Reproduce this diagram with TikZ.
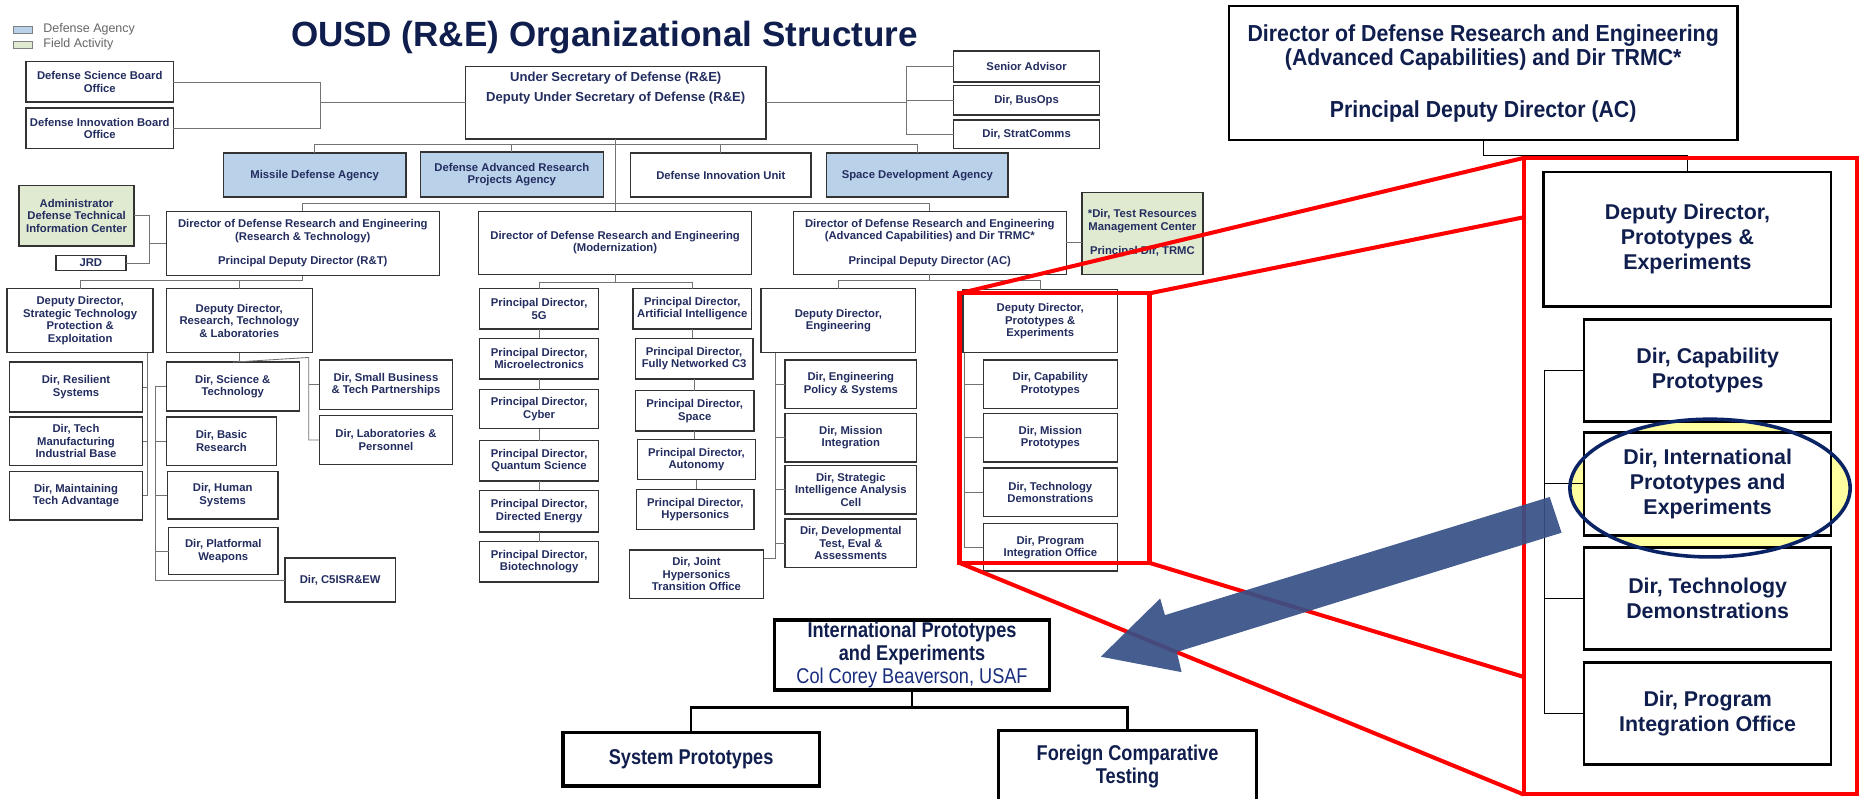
\documentclass[tikz,border=0pt]{standalone}
\usepackage{fontspec}
\setmainfont{Liberation Sans}
\newfontfamily\narrowfont{Liberation Sans}[FakeStretch=0.85]
\newfontfamily\semifont{Liberation Sans}[FakeStretch=0.92]
\definecolor{navy}{RGB}{35,45,95}
\definecolor{navyd}{RGB}{16,30,78}
\definecolor{agblue}{RGB}{186,209,234}
\definecolor{fagreen}{RGB}{224,234,208}
\definecolor{ellblue}{RGB}{10,35,100}
\definecolor{ellyel}{RGB}{255,255,160}
\definecolor{arrblue}{RGB}{55,80,135}
\definecolor{colblue}{RGB}{25,45,125}
\definecolor{redc}{RGB}{255,0,0}
\newcommand{\bx}[7][]{\node[obox,#1,minimum width={#5-#3},minimum height={#6-#4}] (#2) at ({(#3+#5)/2},{(#4+#6)/2}) {#7};}
\begin{document}
\begin{tikzpicture}[x=1pt,y=-1pt,
  obox/.style={draw=black!80, line width=1.2pt, fill=white, inner sep=0.5pt, outer sep=0pt, align=center, text=navy, font=\fontsize{9.5}{10.5}\selectfont\bfseries},
  agency/.style={fill=agblue},
  field/.style={fill=fagreen},
  conn/.style={draw=black!55, line width=0.7pt},
  rbox/.style={draw=black, line width=2.2pt, fill=white, inner sep=1pt, align=center, text=navyd, font=\fontsize{18}{21}\selectfont\bfseries},
  rtopbox/.style={rbox, font=\semifont\fontsize{19.5}{21}\selectfont\bfseries},
  bbox/.style={draw=black, line width=2.8pt, fill=white, inner sep=1pt, align=center, text=navyd, font=\narrowfont\fontsize{18}{19}\selectfont\bfseries},
  rconn/.style={draw=black, line width=0.8pt},
  bconn/.style={draw=black, line width=2.2pt},
  redl/.style={draw=redc, line width=3.4pt}]
\fill[white] (0,0) rectangle (1568,672);
\useasboundingbox (0,0) rectangle (1568,672);

% legend and title
\node[draw=black!50, fill=agblue, minimum width=16, minimum height=6, inner sep=0] (lgA) at (19,25) {};
\node[anchor=west, text=black!60, font=\fontsize{10.5}{12}\selectfont] (lgAt) at (33,25) {Defense Agency};
\node[draw=black!50, fill=fagreen, minimum width=16, minimum height=6, inner sep=0] (lgF) at (19,37.5) {};
\node[anchor=west, text=black!60, font=\fontsize{10.5}{12}\selectfont] (lgFt) at (33,37.5) {Field Activity};
\node[text=navyd, font=\fontsize{29.5}{30}\selectfont\bfseries] (title) at (509,32) {OUSD (R\&E) Organizational Structure};

% top level
\bx{dsb}{22}{52}{146}{86}{Defense Science Board\\Office}
\bx{dib}{22}{91}{146}{125}{Defense Innovation Board\\Office}
\bx{usd}{392}{56}{645}{117}{}
\node[text=navy, font=\fontsize{11}{17}\selectfont\bfseries, align=center] (usdt) at (518.5,74) {Under Secretary of Defense (R\&E)\\Deputy Under Secretary of Defense (R\&E)};
\bx{sa}{803}{43}{926}{69}{Senior Advisor}
\bx{bo}{803}{72}{926}{97}{Dir, BusOps}
\bx{sc}{803}{101}{926}{125}{Dir, StratComms}
\bx[agency]{mda}{188}{129}{342}{166}{Missile Defense Agency}
\bx[agency]{darpa}{354}{128}{508}{166}{Defense Advanced Research\\Projects Agency}
\bx{diu}{531}{129}{683}{166}{Defense Innovation Unit}
\bx[agency]{sda}{696}{129}{849}{166}{Space Development Agency}

% directors
\bx[field]{dtic}{16}{156}{113}{207}{Administrator\\Defense Technical\\Information Center}
\bx{jrd}{47}{215}{106}{228}{JRD}
\bx{rt}{140}{178}{370}{232}{Director of Defense Research and Engineering\\(Research \& Technology)\\[10pt]Principal Deputy Director (R\&T)}
\bx{mod}{403}{178}{633}{231}{Director of Defense Research and Engineering\\(Modernization)}
\bx{ac}{668}{178}{898}{231}{Director of Defense Research and Engineering\\(Advanced Capabilities) and Dir TRMC*\\[10pt]Principal Deputy Director (AC)}
\bx[field]{trmc}{911}{162}{1013}{231}{*Dir, Test Resources\\Management Center\\[10pt]Principal Dir, TRMC}

% R&T branch
\bx{stpe}{6}{243}{129}{297}{Deputy Director,\\Strategic Technology\\Protection \&\\Exploitation}
\bx{rtl}{140}{243}{263}{297}{Deputy Director,\\Research, Technology\\\& Laboratories}
\bx{res}{8}{305}{120}{347}{Dir, Resilient\\Systems}
\bx{tmib}{8}{351}{120}{392}{Dir, Tech\\Manufacturing\\Industrial Base}
\bx{mta}{8}{397}{120}{438}{Dir, Maintaining\\Tech Advantage}
\bx{st}{140}{305}{252}{346}{Dir, Science \&\\Technology}
\bx{br}{140}{351}{233}{392}{Dir, Basic\\Research}
\bx{hs}{141}{397}{234}{437}{Dir, Human\\Systems}
\bx{pw}{142}{444}{234}{484}{Dir, Platformal\\Weapons}
\bx{c5}{240}{470}{333}{507}{Dir, C5ISR\&EW}
\bx{sbtp}{269}{303}{381}{345}{Dir, Small Business\\\& Tech Partnerships}
\bx{lp}{269}{350}{381}{391}{Dir, Laboratories \&\\Personnel}

% Modernization branch
\bx{g5}{404}{243}{504}{277}{Principal Director,\\5G}
\bx{me}{404}{285}{504}{319}{Principal Director,\\Microelectronics}
\bx{cy}{404}{328}{504}{361}{Principal Director,\\Cyber}
\bx{qs}{404}{371}{504}{405}{Principal Director,\\Quantum Science}
\bx{de}{404}{413}{504}{448}{Principal Director,\\Directed Energy}
\bx{bt}{404}{456}{504}{490}{Principal Director,\\Biotechnology}
\bx{ai}{533}{243}{633}{277}{Principal Director,\\Artificial Intelligence}
\bx{c3}{535}{285}{634}{319}{Principal Director,\\Fully Networked C3}
\bx{spc}{535}{329}{635}{363}{Principal Director,\\Space}
\bx{au}{537}{370}{636}{404}{Principal Director,\\Autonomy}
\bx{hy}{536}{412}{635}{446}{Principal Director,\\Hypersonics}
\bx{jh}{530}{463}{643}{504}{Dir, Joint\\Hypersonics\\Transition Office}

% AC branch
\bx{eng}{641}{243}{771}{297}{Deputy Director,\\Engineering}
\bx{eps}{661}{303}{772}{344}{Dir, Engineering\\Policy \& Systems}
\bx{mi}{661}{348}{772}{389}{Dir, Mission\\Integration}
\bx{siac}{661}{392}{772}{433}{Dir, Strategic\\Intelligence Analysis\\Cell}
\bx{dtea}{661}{437}{772}{478}{Dir, Developmental\\Test, Eval \&\\Assessments}
\bx{pe}{811}{244}{941}{297}{Deputy Director,\\Prototypes \&\\Experiments}
\bx{cp}{828}{303}{941}{344}{Dir, Capability\\Prototypes}
\bx{mp}{828}{348}{941}{389}{Dir, Mission\\Prototypes}
\bx{td}{828}{394}{941}{435}{Dir, Technology\\Demonstrations}
\bx{pio}{828}{441}{941}{481}{Dir, Program\\Integration Office}

% connectors, left chart
\coordinate (xl) at (269.5,84);
\draw[conn] (dsb.east) -| (xl) |- (usd.west);
\draw[conn] (dib.east) -| (xl);
\coordinate (xr) at (763,0);
\draw[conn] (usd.east) -- (usd.east -| xr);
\draw[conn] (sa.west) -- (sa.west -| xr) -- (sc.west -| xr) -- (sc.west);
\draw[conn] (bo.west) -- (bo.west -| xr);
\coordinate (abus) at (519,122);
\draw[conn] (mda.north) |- (abus) -| (sda.north);
\draw[conn] (darpa.north) -- (darpa.north |- abus);
\draw[conn] (diu.north) -- (diu.north |- abus);
\draw[conn] (usd.south) -- (usd.south |- mod.north);
\coordinate (dbus) at (519,171);
\draw[conn] (rt.north) |- (dbus) -| (ac.north);
\coordinate (xj) at (126,204);
\draw[conn] (dtic.east) -| (xj) |- (rt.west);
\draw[conn] (jrd.east) -| (xj);
\coordinate (rtb) at (255,236);
\draw[conn] (rt.south) -- (rtb);
\draw[conn] (stpe.north) |- (rtb) -| (rtl.north);
\coordinate (sx) at (124,0);
\draw[conn] (stpe.south -| sx) |- (mta.east);
\draw[conn] (res.east) -- (res.east -| sx);
\draw[conn] (tmib.east) -- (tmib.east -| sx);
\coordinate (lx) at (260,301);
\draw[conn] (rtl.south) -- (rtl.south |- st.north);
\draw[conn] (st.north -| 196,0) -- (lx) |- (lp.west);
\draw[conn] (sbtp.west) -- (sbtp.west -| lx);
\coordinate (stx) at (131,0);
\draw[conn] (st.west) -| (stx |- c5.west) -- (c5.west);
\draw[conn] (br.west) -- (br.west -| stx);
\draw[conn] (hs.west) -- (hs.west -| stx);
\draw[conn] (pw.west) -- (pw.west -| stx);
\coordinate (mb) at (518,238);
\draw[conn] (mod.south) -- (mb);
\draw[conn] (g5.north) |- (mb) -| (ai.north);
\draw[conn] (g5.south) -- (me.north);
\draw[conn] (me.south) -- (cy.north);
\draw[conn] (cy.south) -- (qs.north);
\draw[conn] (qs.south) -- (de.north);
\draw[conn] (de.south) -- (bt.north);
\draw[conn] (ai.south) -- (ai.south |- c3.north);
\draw[conn] (c3.south) -- (c3.south |- spc.north);
\draw[conn] (spc.south) -- (spc.south |- au.north);
\draw[conn] (au.south) -- (au.south |- hy.north);
\coordinate (ab) at (783,236);
\draw[conn] (ac.south) -- (ab);
\draw[conn] (eng.north) |- (ab) -| (pe.north);
\draw[conn] (ac.east) -- (ac.east -| trmc.west);
\coordinate (ex) at (653,470);
\draw[conn] (ex |- eng.south) -- (ex) -- (ex -| jh.east);
\draw[conn] (eps.west) -- (eps.west -| ex);
\draw[conn] (mi.west) -- (mi.west -| ex);
\draw[conn] (siac.west) -- (siac.west -| ex);
\draw[conn] (dtea.west) -- (dtea.west -| ex);
\coordinate (px) at (812,0);
\draw[conn] (px |- pe.south) |- (pio.west);
\draw[conn] (cp.west) -- (cp.west -| px);
\draw[conn] (mp.west) -- (mp.west -| px);
\draw[conn] (td.west) -- (td.west -| px);

% bottom chart
\bx[bbox]{bip}{652}{522}{884}{581}{International Prototypes\\and Experiments\\{\mdseries\color{colblue}Col Corey Beaverson, USAF}}
\bx[bbox]{bsp}{474}{617}{690}{662}{System Prototypes}
\bx[bbox]{bfct}{841}{615}{1058}{676}{Foreign Comparative\\Testing}
\coordinate (bj) at (768,596);
\draw[bconn] (bip.south) -- (bj);
\draw[bconn] (bsp.north) |- (bj) -| (bfct.north);

% right panel
\bx[rtopbox]{rtop}{1035}{5}{1463}{118}{Director of Defense Research and Engineering\\(Advanced Capabilities) and Dir TRMC*\\[22pt]Principal Deputy Director (AC)}
\fill[ellyel] (1440,411) ellipse [x radius=118pt, y radius=58pt];
\coordinate (rj) at (1300,131);
\draw[rconn] (rtop.south) |- (rj) -| (1421,145);
\coordinate (rx) at (1301,0);
\bx[rbox]{rdd}{1300}{145}{1542}{258}{Deputy Director,\\Prototypes \&\\Experiments}
\bx[rbox]{rcp}{1334}{269}{1542}{355}{Dir, Capability\\Prototypes}
\bx[rbox]{rip}{1334}{364}{1542}{451}{Dir, International\\Prototypes and\\Experiments}
\bx[rbox]{rtd}{1334}{461}{1542}{547}{Dir, Technology\\Demonstrations}
\bx[rbox]{rpio}{1334}{558}{1542}{644}{Dir, Program\\Integration Office}
\draw[rconn] (rcp.west) -| (rx |- rpio.west) -- (rpio.west);
\draw[rconn] (rip.west) -- (rip.west -| rx);
\draw[rconn] (rtd.west) -- (rtd.west -| rx);
\draw[ellblue, line width=3pt] (1440,411) ellipse [x radius=118pt, y radius=58pt];

% red zoom frame
\coordinate (sr1) at (808,247);
\coordinate (sr2) at (968,474);
\coordinate (br1) at (1283,133);
\coordinate (br2) at (1564,669);
\draw[redl] (sr1) rectangle (sr2);
\draw[redl] (br1) rectangle (br2);
\draw[redl] (sr1) -- (br1);
\draw[redl] (sr2 |- sr1) -- (1283,183);
\draw[redl] (sr1 |- sr2) -- (br1 |- br2);
\draw[redl] (sr2) -- (1283,570);

% arrow
\fill[arrblue, opacity=0.92] (1305,418.5) -- (981,518) -- (977,504) -- (927,553) -- (995,566) -- (991,549) -- (1315,448.6) -- cycle;
\end{tikzpicture}
\end{document}
